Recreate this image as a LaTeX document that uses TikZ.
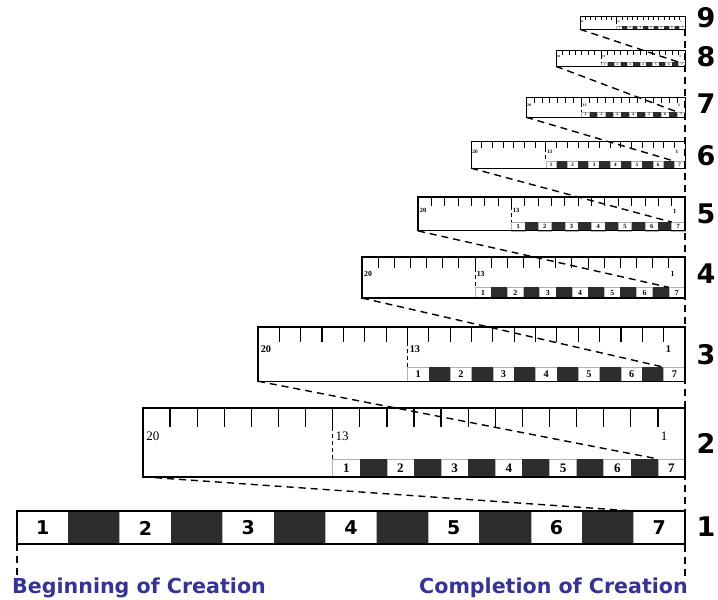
\documentclass[tikz,border=0pt]{standalone}
\usepackage{fontspec}
\setmainfont{DejaVu Sans}
\newfontfamily\serifnum{Liberation Serif}
\definecolor{creation}{RGB}{51,51,153}
\definecolor{daycell}{RGB}{45,45,45}
\begin{document}
\begin{tikzpicture}[x=1pt,y=-1pt]
\useasboundingbox (0,0) rectangle (718,600);
\tikzset{
  guide/.style={draw=black,line width=1.4pt,dash pattern=on 7pt off 5pt},
  daynum/.style={font=\bfseries\fontsize{19}{19}\selectfont, inner sep=0pt},
  levelnum/.style={font=\bfseries\fontsize{27}{27}\selectfont, inner sep=0pt},
  caption/.style={font=\bfseries\fontsize{20.6}{20.6}\selectfont, text=creation, inner sep=0pt},
  celledge/.style={draw=gray!60, line width=0.6pt},
}
% ---------- level 1: the seven days ----------
\foreach \i in {0,...,12}{
  \pgfmathsetmacro\xa{17+\i*668/13}
  \pgfmathsetmacro\xb{17+(\i+1)*668/13}
  \pgfmathtruncatemacro\odd{mod(\i,2)}
  \ifnum\odd=1
    \fill[daycell] (\xa,511) rectangle (\xb,544);
  \else
    \pgfmathtruncatemacro\n{\i/2+1}
    \draw[celledge] (\xa,511) rectangle (\xb,544);
    \node[daynum] (day1-\n) at ({(\xa+\xb)/2},528) {\n};
  \fi
}
\draw[line width=1.4pt] (17,511) rectangle (685,544);
\coordinate (c7-1) at ({17+12*668/13},511);
% ---------- levels 2..9: rulers ----------
\foreach \k/\L/\T in {2/143/408, 3/258/327, 4/362/257, 5/418/197, 6/471/141, 7/526/97, 8/556/50, 9/580/16}{
  \pgfmathsetmacro\W{685-\L}
  \pgfmathsetmacro\u{\W/20}
  \pgfmathsetmacro\B{\T+0.127*\W}
  \pgfmathsetmacro\tl{\T+0.035*\W}
  \pgfmathsetmacro\bt{\B-0.033*\W}
  \pgfmathsetmacro\lw{0.6+0.9*\W/542}
  \pgfmathsetmacro\fr{0.024*\W}
  \pgfmathsetmacro\fc{0.024*\W}
  \pgfmathsetmacro\xs{\L+7*\u}
  \pgfmathsetmacro\ly{\T+0.052*\W}
  \ifnum\k=2 \def\wt{\mdseries}\else\def\wt{\bfseries}\fi
  \foreach \i in {0,...,12}{
    \pgfmathsetmacro\xa{\xs+\i*\u}
    \pgfmathsetmacro\xb{\xs+(\i+1)*\u}
    \pgfmathtruncatemacro\odd{mod(\i,2)}
    \ifnum\odd=1
      \fill[daycell] (\xa,\bt) rectangle (\xb,\B);
    \else
      \pgfmathtruncatemacro\n{\i/2+1}
      \draw[celledge] (\xa,\bt) rectangle (\xb,\B);
      \node[inner sep=0pt, font={\serifnum\bfseries\fontsize{\fc}{\fc}\selectfont}] (d\k-\n) at ({(\xa+\xb)/2},{(\bt+\B)/2}) {\n};
    \fi
  }
  \foreach \i in {1,...,19}{
    \pgfmathsetmacro\xt{\L+\i*\u}
    \draw[line width={0.85*\lw pt}] (\xt,\T) -- (\xt,\tl);
  }
  \draw[line width={0.85*\lw pt}, dash pattern=on 4pt off 3pt] (\xs,\tl) -- (\xs,\bt);
  \node[anchor=west, inner sep=0pt, font={\serifnum\wt\fontsize{\fr}{\fr}\selectfont}] (r\k-20) at ({\L+0.006*\W},\ly) {20};
  \node[anchor=west, inner sep=0pt, font={\serifnum\wt\fontsize{\fr}{\fr}\selectfont}] (r\k-13) at ({\xs+0.005*\W},\ly) {13};
  \node[anchor=west, inner sep=0pt, font={\serifnum\wt\fontsize{\fr}{\fr}\selectfont}] (r\k-1) at ({\L+19*\u+0.005*\W},\ly) {1};
  \draw[line width={\lw pt}] (\L,\T) rectangle (685,\B);
  \coordinate (bl-\k) at (\L,\B);
  \coordinate (c7-\k) at ({\L+19*\u},\bt);
}
% ---------- dashed connectors ----------
\foreach \k [evaluate=\k as \km using int(\k-1)] in {2,...,9}{
  \draw[guide] (bl-\k) -- (c7-\km);
}
\coordinate (vtop) at (685,29);
\coordinate (vbot) at (685,576);
\draw[guide] (vtop) -- (vbot);
\coordinate (ltop) at (17,544);
\coordinate (lbot) at (17,576);
\draw[guide] (ltop) -- (lbot);
% ---------- level numbers ----------
\foreach \k/\y in {1/527,2/443,3/355,4/274,5/214,6/156,7/104,8/57,9/18}{
  \node[levelnum] (lvl\k) at (706,\y) {\k};
}
% ---------- captions ----------
\node[caption, anchor=base west] (begin) at (12,593) {Beginning of Creation};
\node[caption, anchor=base east] (finish) at (688,593) {Completion of Creation};
\end{tikzpicture}
\end{document}
